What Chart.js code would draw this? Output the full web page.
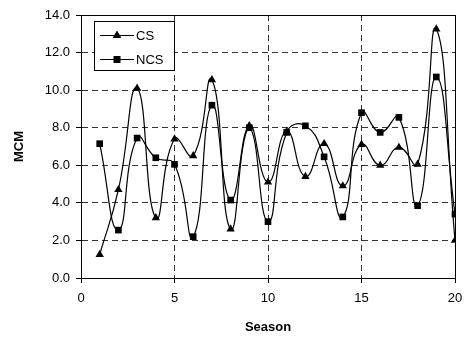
<!DOCTYPE html>
<html>
<head>
<meta charset="utf-8">
<script src="https://cdn.jsdelivr.net/npm/chart.js@4.4.0/dist/chart.umd.min.js"></script>
<style>
  html, body { margin: 0; padding: 0; background: #fff; }
  #wrap { width: 464px; height: 340px; }
</style>
</head>
<body>
<div id="wrap"><canvas id="mcmChart" width="464" height="340"></canvas></div>
<script>
// Seasons and MCM values
const seasons = [1, 2, 3, 4, 5, 6, 7, 8, 9, 10, 11, 12, 13, 14, 15, 16, 17, 18, 19, 20];
const csValues = [1.25, 4.7, 10.1, 3.2, 7.4, 6.5, 10.55, 2.6, 8.1, 5.1, 7.8, 5.4, 7.15, 4.9, 7.1, 6.0, 6.95, 6.05, 13.25, 2.0];
const ncsValues = [7.15, 2.55, 7.45, 6.4, 6.05, 2.2, 9.2, 4.15, 8.0, 3.0, 7.75, 8.1, 6.45, 3.25, 8.8, 7.75, 8.55, 3.85, 10.7, 3.4];
const seriesNames = ["CS", "NCS"];

document.addEventListener("DOMContentLoaded", function() {
    const font = "'Liberation Sans', Arial, sans-serif";

    const toPoints = vals => vals.map((v, i) => ({ x: seasons[i], y: v }));

    // plot frame + boxed legend like the original
    const framePlugin = {
        id: "frame",
        afterDraw(chart) {
            const c = chart.ctx;
            const a = chart.chartArea;
            c.save();
            c.strokeStyle = "#000";
            c.lineWidth = 1;
            c.strokeRect(Math.round(a.left) + 0.5, Math.round(a.top) + 0.5,
                Math.round(a.right - a.left), Math.round(a.bottom - a.top));

            // legend box
            const bx = a.left + 13, by = a.top + 6, bw = 80, bh = 49;
            c.fillStyle = "#fff";
            c.fillRect(bx, by, bw, bh);
            c.strokeRect(bx + 0.5, by + 0.5, bw, bh);
            chart.data.datasets.forEach((ds, i) => {
                const y = by + 14 + i * 24;
                c.beginPath();
                c.moveTo(bx + 6, y + 0.5);
                c.lineTo(bx + 40, y + 0.5);
                c.strokeStyle = "#000";
                c.lineWidth = 1.2;
                c.stroke();
                c.fillStyle = "#000";
                Chart.helpers.drawPoint(c, {
                    pointStyle: ds.pointStyle,
                    radius: ds.pointRadius,
                    borderWidth: 0,
                    rotation: 0
                }, bx + 23, y + 0.5);
                c.fill();
                c.font = "13px " + font;
                c.textBaseline = "middle";
                c.textAlign = "left";
                c.fillText(ds.label, bx + 42, y + 1);
            });
            c.restore();
        }
    };

    const gridColor = (ctx, max) =>
        (ctx.tick && (ctx.tick.value === 0 || ctx.tick.value === max)) ? "transparent" : "#333";

    const ctx = document.getElementById("mcmChart").getContext("2d");
    new Chart(ctx, {
        type: "line",
        data: {
            datasets: [{
                label: seriesNames[0],
                data: toPoints(csValues),
                borderColor: "#000",
                backgroundColor: "#000",
                borderWidth: 1.2,
                pointStyle: "triangle",
                pointRadius: 4.8,
                pointBorderWidth: 0,
                tension: 0.5
            }, {
                label: seriesNames[1],
                data: toPoints(ncsValues),
                borderColor: "#000",
                backgroundColor: "#000",
                borderWidth: 1.2,
                pointStyle: "rect",
                pointRadius: 4.7,
                pointBorderWidth: 0,
                tension: 0.5
            }]
        },
        options: {
            responsive: false,
            animation: false,
            layout: { padding: { top: 15, right: 9, left: 0, bottom: 0 } },
            plugins: {
                legend: { display: false },
                tooltip: { enabled: false }
            },
            scales: {
                x: {
                    type: "linear",
                    min: 0,
                    max: 20,
                    afterFit: s => { s.height = 62; s.paddingLeft = 0; s.paddingRight = 0; },
                    ticks: { stepSize: 5, color: "#000", padding: 8, font: { family: font, size: 13 } },
                    grid: {
                        color: c => gridColor(c, 20),
                        tickColor: "#000",
                        tickLength: 5,
                        lineWidth: 1
                    },
                    border: { display: true, color: "#000", width: 1, dash: [6, 4] },
                    title: {
                        display: true,
                        text: "Season",
                        color: "#000",
                        font: { family: font, size: 13, weight: "bold" },
                        padding: { top: 0, bottom: 5 }
                    }
                },
                y: {
                    min: 0,
                    max: 14,
                    afterFit: s => { s.width = 81; s.paddingTop = 0; s.paddingBottom = 0; },
                    ticks: {
                        stepSize: 2,
                        color: "#000",
                        padding: 6,
                        font: { family: font, size: 13 },
                        callback: v => v.toFixed(1)
                    },
                    grid: {
                        color: c => gridColor(c, 14),
                        tickColor: "#000",
                        tickLength: 5,
                        lineWidth: 1
                    },
                    border: { display: true, color: "#000", width: 1, dash: [6, 4] },
                    title: {
                        display: true,
                        text: "MCM",
                        color: "#000",
                        font: { family: font, size: 13, weight: "bold" },
                        padding: { top: 12, bottom: 0 }
                    }
                }
            }
        },
        plugins: [framePlugin]
    });
});
</script>
</body>
</html>
